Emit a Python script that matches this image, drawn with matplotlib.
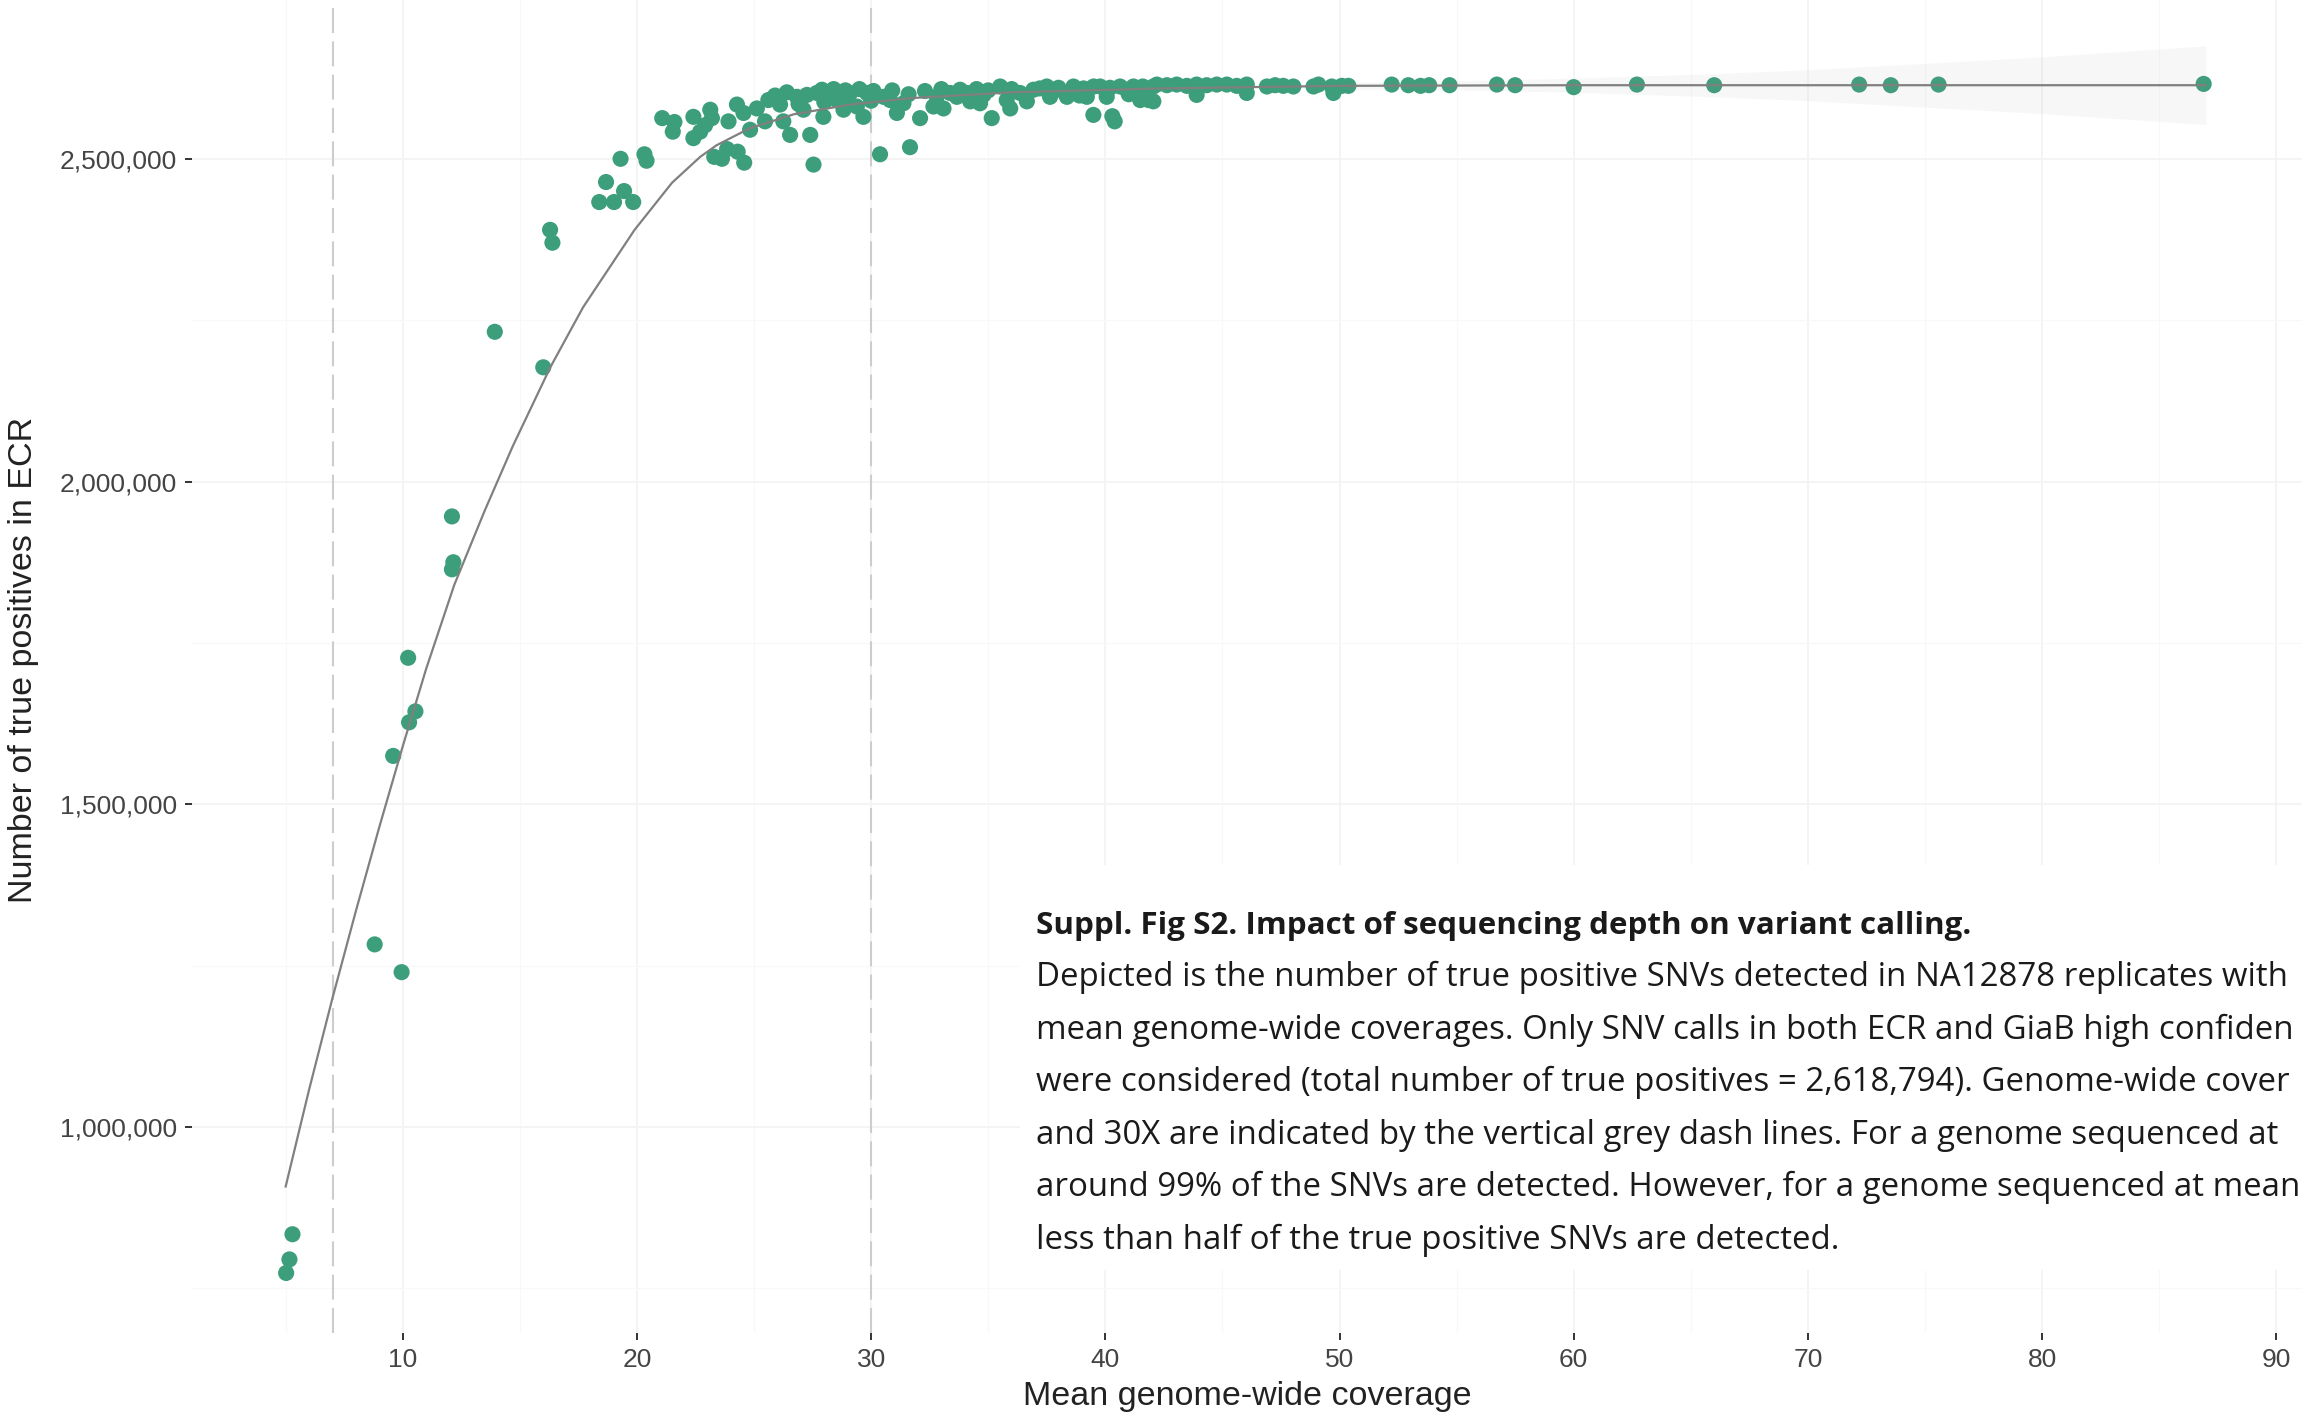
import numpy as np
import matplotlib
matplotlib.use('Agg')
import matplotlib.pyplot as plt
from matplotlib.patches import Rectangle
from matplotlib.ticker import FuncFormatter, MultipleLocator

# mean genome-wide coverage of each replicate
coverage = [5.02, 5.16, 5.29, 8.8, 9.95, 9.59, 10.27, 10.54, 10.23,
            12.1, 12.16, 12.1, 13.93, 16.0, 16.29, 16.39,
            18.39, 19.02, 18.68, 19.45, 19.84, 19.3, 20.32, 20.41,
            21.08, 21.6, 21.53, 22.41, 22.41, 22.7, 22.91, 23.13, 23.2,
            23.3, 23.63, 23.85, 24.3, 24.58,
            23.91, 24.27, 24.55, 24.83, 25.12, 25.47, 25.61, 26.11, 26.25,
            26.54, 26.83, 27.11, 27.4, 27.54, 27.26, 27.68, 27.96, 28.25,
            28.54, 28.82, 29.1, 29.39, 29.67, 29.82, 30.38, 30.53, 30.81,
            31.1, 31.38, 31.66,
            27.9, 28.4, 28.9, 29.5, 30.1, 30.0, 30.9, 26.4, 25.9, 26.9,
            28.0, 29.0, 31.6,
            32.09, 32.66, 33.09, 32.8, 33.37, 33.66, 34.09, 34.23, 34.65,
            34.8, 35.15, 35.51, 35.79, 35.94, 36.36, 36.65, 36.93, 37.5,
            37.64, 37.93, 38.36, 38.64, 39.07, 39.21, 39.49, 39.78, 40.06,
            40.3, 40.4, 40.63, 40.92, 41.2, 41.49, 41.84, 42.05,
            32.3, 33.0, 33.8, 34.5, 35.0, 36.0, 37.2, 38.0, 38.9, 39.5,
            40.2, 41.0, 41.6,
            42.05, 42.2, 42.63, 43.05, 43.48, 43.9, 43.9, 44.33, 44.76,
            45.19, 45.61, 46.04, 46.04, 46.9, 47.25, 47.6, 48.03, 48.89,
            49.1, 49.67, 49.74, 50.1, 50.38, 52.23, 52.94, 53.46, 53.83,
            54.7, 56.72, 57.5, 60.0, 62.7, 66.0, 72.19, 73.54, 75.58, 86.9]

# true positive SNVs called inside the ECR
true_pos = [774e3, 795e3, 834e3, 1283e3, 1240e3, 1575e3, 1627e3, 1644e3, 1727e3,
            1946e3, 1875e3, 1864e3, 2232e3, 2177e3, 2390e3, 2370e3,
            2433e3, 2433e3, 2464e3, 2450e3, 2433e3, 2500e3, 2507e3, 2497e3,
            2563e3, 2557e3, 2542e3, 2565e3, 2532e3, 2542e3, 2552e3, 2576e3, 2563e3,
            2503e3, 2500e3, 2515e3, 2511e3, 2494e3,
            2558e3, 2584e3, 2571e3, 2545e3, 2578e3, 2558e3, 2591e3, 2584e3, 2558e3,
            2537e3, 2596e3, 2576e3, 2537e3, 2491e3, 2599e3, 2602e3, 2565e3, 2599e3,
            2591e3, 2576e3, 2602e3, 2581e3, 2565e3, 2602e3, 2507e3, 2596e3, 2591e3,
            2571e3, 2586e3, 2518e3,
            2607e3, 2608e3, 2606e3, 2608e3, 2605e3, 2590e3, 2606e3, 2603e3, 2598e3, 2585e3,
            2588e3, 2590e3, 2600e3,
            2563e3, 2581e3, 2578e3, 2596e3, 2602e3, 2596e3, 2602e3, 2589e3, 2586e3,
            2599e3, 2563e3, 2612e3, 2591e3, 2578e3, 2602e3, 2589e3, 2607e3, 2612e3,
            2596e3, 2607e3, 2596e3, 2612e3, 2609e3, 2596e3, 2568e3, 2612e3, 2596e3,
            2566e3, 2558e3, 2612e3, 2607e3, 2612e3, 2591e3, 2591e3, 2612e3,
            2605e3, 2608e3, 2607e3, 2608e3, 2606e3, 2608e3, 2609e3, 2610e3, 2598e3, 2612e3,
            2610e3, 2600e3, 2612e3,
            2589e3, 2615e3, 2614e3, 2615e3, 2613e3, 2615e3, 2599e3, 2614e3, 2615e3,
            2615e3, 2613e3, 2615e3, 2602e3, 2612e3, 2614e3, 2613e3, 2612e3, 2612e3,
            2615e3, 2612e3, 2602e3, 2613e3, 2613e3, 2615e3, 2614e3, 2613e3, 2614e3,
            2614e3, 2615e3, 2614e3, 2611e3, 2615e3, 2614e3, 2615e3, 2614e3, 2615e3, 2616e3]

# smoothed trend through the replicates
smooth_x = [5.0, 6.0, 7.0, 8.0, 9.0, 10.0, 11.0, 12.2, 13.5, 14.7, 16.3, 17.7,
            19.9, 21.5, 22.7, 23.4, 24.8, 26.7, 29.1, 31.7, 36.0, 42.3, 50.0,
            60.0, 70.0, 87.0]
smooth_y = [908e3, 1058e3, 1200e3, 1335e3, 1465e3, 1590e3, 1710e3, 1840e3,
            1955e3, 2055e3, 2177e3, 2270e3, 2390e3, 2463e3, 2503e3, 2521e3,
            2547e3, 2569e3, 2584e3, 2594e3, 2603e3, 2609e3, 2613e3, 2614e3,
            2614e3, 2614e3]

# confidence band of the trend where it opens up
band_x = [50, 55, 60, 66, 70, 75, 80, 87]
band_hi = [2618e3, 2621e3, 2625e3, 2632e3, 2638e3, 2648e3, 2658e3, 2675e3]
band_lo = [2608e3, 2607e3, 2603e3, 2596e3, 2590e3, 2580e3, 2570e3, 2553e3]

cutoffs = [7, 30]
x_ticks = [10, 20, 30, 40, 50, 60, 70, 80, 90]
y_ticks = [1000000, 1500000, 2000000, 2500000]

caption_title = "Suppl. Fig S2. Impact of sequencing depth on variant calling."
caption_lines = [
    "Depicted is the number of true positive SNVs detected in NA12878 replicates with",
    "mean genome-wide coverages. Only SNV calls in both ECR and GiaB high confiden",
    "were considered (total number of true positives = 2,618,794). Genome-wide cover",
    "and 30X are indicated by the vertical grey dash lines. For a genome sequenced at",
    "around 99% of the SNVs are detected. However, for a genome sequenced at mean",
    "less than half of the true positive SNVs are detected.",
]

W, H = 2304, 1418
plt.rcParams['font.family'] = ['Liberation Sans', 'DejaVu Sans']
fig = plt.figure(figsize=(W / 100, H / 100), dpi=100)
fig.patch.set_facecolor('white')
ax = fig.add_axes([192 / W, 85 / H, 2110 / W, 1333 / H])

ax.set_xlim(1.0, 91.1)
ax.set_ylim(681e3, 2746e3)
for s in ax.spines.values():
    s.set_visible(False)

ax.set_xticks(x_ticks)
ax.set_yticks(y_ticks)
ax.xaxis.set_minor_locator(MultipleLocator(5))
ax.yaxis.set_minor_locator(MultipleLocator(250000))
ax.yaxis.set_major_formatter(FuncFormatter(lambda v, p: f'{int(v):,}'))
ax.grid(which='major', color='#f3f3f3', lw=1.3)
ax.grid(which='minor', color='#f8f8f8', lw=0.9)
ax.set_axisbelow(True)
ax.tick_params(which='major', length=5, width=1.4, color='#333333',
               labelsize=19, labelcolor='#444444', pad=6)
ax.tick_params(which='minor', length=0)

for c in cutoffs:
    ax.axvline(c, color='#cdcdcd', lw=1.5, ls=(0, (12, 4)), zorder=1)

ax.scatter(coverage, true_pos, s=135, color='#3d9e7b', edgecolors='none', zorder=3)
ax.fill_between(band_x, band_lo, band_hi, color='#9a9a9a', alpha=0.07,
                lw=0, zorder=4)
ax.plot(smooth_x, smooth_y, color='#808080', lw=1.6, zorder=5)

fig.text(24 / W, 1 - 660 / H, 'Number of true positives in ECR', rotation=90,
         ha='center', va='center', fontsize=24.5, color='#222222')
fig.text(1247 / W, 1 - 1397 / H, 'Mean genome-wide coverage',
         ha='center', va='center', fontsize=24.5, color='#222222')

# caption panel pasted over the lower right of the plot
box = Rectangle((1020 / W, 1 - 1270 / H), 1 - 1020 / W, 405 / H,
                transform=fig.transFigure, facecolor='white', edgecolor='none',
                zorder=10)
fig.add_artist(box)

cap_font = ['Open Sans', 'DejaVu Sans']
renderer = fig.canvas.get_renderer()


def fit_size(txt, width_px, **kw):
    t = fig.text(0, 0, txt, fontsize=20, family=cap_font, **kw)
    w = t.get_window_extent(renderer=renderer).width
    t.remove()
    return 20 * width_px / w


title_size = fit_size(caption_title, 936, fontweight='bold')
body_size = fit_size(caption_lines[-1], 801)

fig.text(1036 / W, 1 - 934 / H, caption_title, family=cap_font,
         fontsize=title_size, fontweight='bold', color='#1a1a1a',
         va='baseline', zorder=11)
for i, line in enumerate(caption_lines):
    fig.text(1036 / W, 1 - (986 + 52.6 * i) / H, line, family=cap_font,
             fontsize=body_size, color='#1a1a1a', va='baseline', zorder=11)

fig.savefig('out.png', dpi=100)
